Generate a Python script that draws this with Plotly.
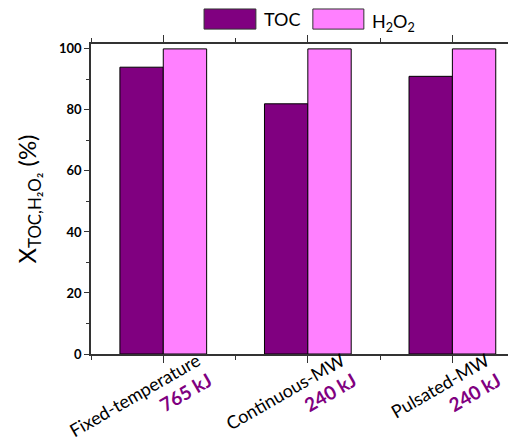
import plotly.graph_objects as go

categories = ["Fixed-temperature", "Continuous-MW", "Pulsated-MW"]
energies = ["765 kJ", "240 kJ", "240 kJ"]
toc_values = [94, 82, 91]
h2o2_values = [100, 100, 100]
y_ticks = [0, 20, 40, 60, 80, 100]

TOC_COLOR = "#800080"
H2O2_COLOR = "#FF80FF"
FONT = "Lato"

x_pos = list(range(len(categories)))
tick_text = [f"{c}<br><b><span style='color:{TOC_COLOR}; font-size:19px'>{e}</span></b>"
             for c, e in zip(categories, energies)]

fig = go.Figure()
fig.add_trace(go.Bar(x=x_pos, y=toc_values, name="TOC", marker=dict(color=TOC_COLOR, line=dict(color="black", width=1)), showlegend=False))
fig.add_trace(go.Bar(x=x_pos, y=h2o2_values, name="H2O2", marker=dict(color=H2O2_COLOR, line=dict(color="black", width=1)), showlegend=False))

fig.update_layout(
    width=516, height=438,
    margin=dict(l=83, r=8, t=36, b=92, autoexpand=False),
    paper_bgcolor="white", plot_bgcolor="white",
    barmode="group", bargap=0.4, bargroupgap=0,
    font=dict(family=FONT, color="black"),
    xaxis=dict(
        range=[-0.5, 2.44], tickvals=x_pos, ticktext=tick_text,
        tickangle=-30, tickfont=dict(size=18, family=FONT),
        ticks="outside", ticklen=7, tickwidth=1.2, tickcolor="#333",
        ticklabelshift=34, ticklabelstandoff=-19,
        showline=True, linecolor="#333", linewidth=1.5, mirror="ticks",
        showgrid=False, zeroline=False, automargin=False,
        minor=dict(tickvals=[-0.5, 0.5, 1.5, 2.5], ticks="outside", ticklen=4, tickcolor="#333"),
    ),
    yaxis=dict(
        range=[0, 101.6], tickvals=y_ticks, ticktext=[f"<b>{v}</b>" for v in y_ticks],
        tickfont=dict(size=13, family=FONT),
        ticks="outside", ticklen=5, tickwidth=1.2, tickcolor="#333",
        showline=True, linecolor="#333", linewidth=1.5,
        showgrid=False, zeroline=False, automargin=False,
        minor=dict(tickvals=[10, 30, 50, 70, 90], ticks="outside", ticklen=3, tickcolor="#333"),
        title=dict(text="X<sub>TOC,H₂O₂</sub> (%)", font=dict(size=24, family=FONT), standoff=16),
    ),
)

# legend drawn as decoration at the top
fig.add_shape(type="rect", xref="paper", yref="paper", x0=0.266, x1=0.388, y0=1.048, y1=1.113,
              fillcolor=TOC_COLOR, line=dict(color="#333", width=1))
fig.add_shape(type="rect", xref="paper", yref="paper", x0=0.522, x1=0.642, y0=1.048, y1=1.113,
              fillcolor=H2O2_COLOR, line=dict(color="#333", width=1))
fig.add_annotation(xref="paper", yref="paper", x=0.402, y=1.081, text="TOC", showarrow=False,
                   xanchor="left", yanchor="middle", font=dict(size=18, family=FONT))
fig.add_annotation(xref="paper", yref="paper", x=0.656, y=1.07, text="H<sub>2</sub>O<sub>2</sub>", showarrow=False,
                   xanchor="left", yanchor="middle", font=dict(size=18, family=FONT))

fig.write_html("out.html")
